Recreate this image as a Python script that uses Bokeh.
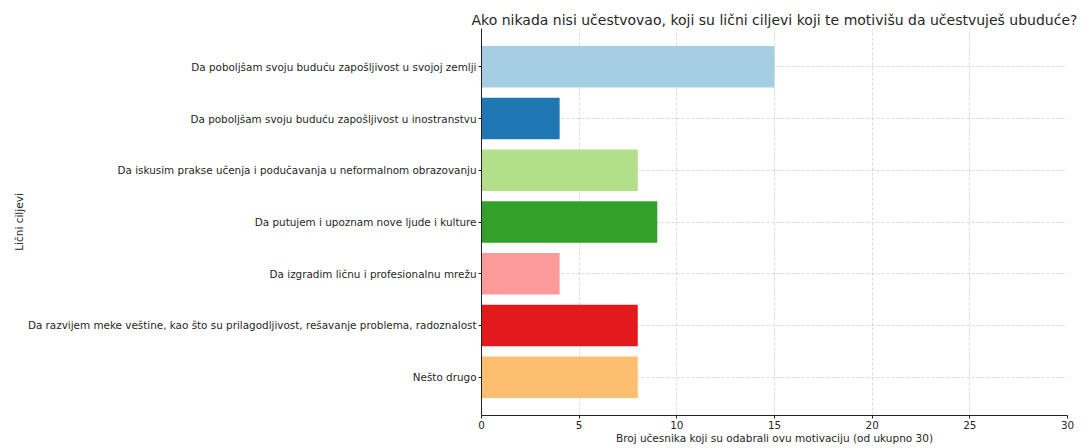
from bokeh.plotting import figure
from bokeh.models import ColumnDataSource, Range1d, FactorRange, FixedTicker
from bokeh.embed import file_html
from bokeh.resources import INLINE

categories = [
    "Da poboljšam svoju buduću zapošljivost u svojoj zemlji",
    "Da poboljšam svoju buduću zapošljivost u inostranstvu",
    "Da iskusim prakse učenja i podučavanja u neformalnom obrazovanju",
    "Da putujem i upoznam nove ljude i kulture",
    "Da izgradim ličnu i profesionalnu mrežu",
    "Da razvijem meke veštine, kao što su prilagodljivost, rešavanje problema, radoznalost",
    "Nešto drugo",
]
counts = [15, 4, 8, 9, 4, 8, 8]
colors = ["#a6cee3", "#1f78b4", "#b2df8a", "#33a02c", "#fb9a99", "#e31a1c", "#fdbf6f"]
x_ticks = [0, 5, 10, 15, 20, 25, 30]

FONT = "DejaVu Sans"
TXT = "#262626"

source = ColumnDataSource(dict(cat=categories, val=counts, color=colors))

p = figure(
    width=1083, height=448,
    y_range=FactorRange(factors=list(reversed(categories)), range_padding=0.24,
                        range_padding_units="absolute"),
    x_range=Range1d(0, 30),
    output_backend="svg", toolbar_location=None,
    min_border_left=481, min_border_right=16, min_border_top=28, min_border_bottom=33,
    title="Ako nikada nisi učestvovao, koji su lični ciljevi koji te motivišu da učestvuješ ubuduće?",
)

p.hbar(y="cat", right="val", left=0, height=0.8, color="color", line_color=None, source=source)

p.title.align = "center"
p.title.offset = -4
p.title.text_font = FONT
p.title.text_font_size = "14px"
p.title.text_font_style = "normal"
p.title.text_color = TXT
p.title.standoff = 2

p.outline_line_color = None

p.xaxis.ticker = FixedTicker(ticks=x_ticks)
p.xaxis.axis_label = "Broj učesnika koji su odabrali ovu motivaciju (od ukupno 30)"
p.yaxis.axis_label = "Lični ciljevi"

for ax in (p.xaxis, p.yaxis):
    ax.axis_label_text_font = FONT
    ax.axis_label_text_font_size = "10.5px"
    ax.axis_label_text_font_style = "normal"
    ax.axis_label_text_color = TXT
    ax.major_label_text_font = FONT
    ax.major_label_text_font_size = "10.4px"
    ax.major_label_text_color = TXT
    ax.axis_line_color = "#222222"
    ax.major_tick_line_color = "#222222"
    ax.major_tick_out = 3
    ax.major_tick_in = 0
    ax.minor_tick_line_color = None
    ax.major_label_standoff = 2
    ax.axis_label_standoff = 0

p.grid.grid_line_color = "#b0b0b0"
p.grid.grid_line_alpha = 0.6
p.grid.grid_line_dash = "3 2"
p.grid.grid_line_width = 0.8

open("out.html", "w").write(file_html(p, INLINE))
